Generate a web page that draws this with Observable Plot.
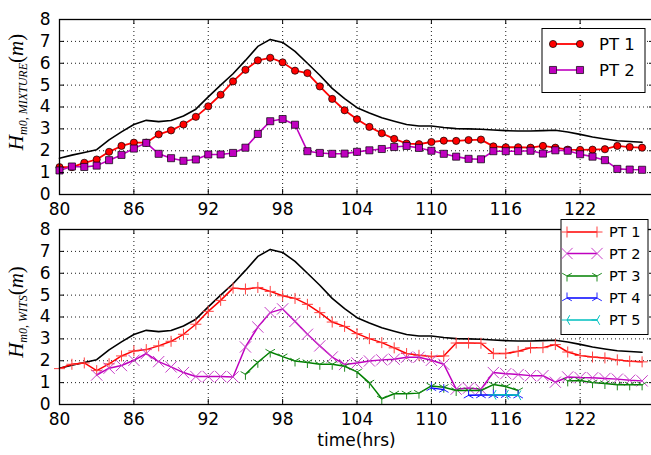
<!DOCTYPE html>
<html><head><meta charset="utf-8">
<script src="https://cdn.jsdelivr.net/npm/d3@7"></script>
<script src="https://cdn.jsdelivr.net/npm/@observablehq/plot@0.6"></script>
<style>
html,body{margin:0;padding:0;overflow:hidden;background:#fff;}
#wrap{position:relative;width:651px;height:455px;overflow:hidden;background:#fff;}
#wrap svg{display:block;}
</style></head><body><div id="wrap"></div>
<script>
// ---------- data ----------
const hours = [80,81,82,83,84,85,86,87,88,89,90,91,92,93,94,95,96,97,98,99,100,101,102,103,104,105,106,107,108,109,110,111,112,113,114,115,116,117,118,119,120,121,122,123,124,125,126,127];
const reference = [1.66,1.8,1.92,2.05,2.5,2.86,3.2,3.39,3.33,3.38,3.59,3.9,4.46,5.0,5.52,6.13,6.77,7.09,6.95,6.54,6.0,5.45,4.85,4.38,3.97,3.73,3.51,3.35,3.2,3.13,3.13,3.06,3.01,3.0,2.98,2.95,2.92,2.9,2.9,2.92,2.94,2.86,2.75,2.63,2.54,2.46,2.42,2.39];
const mixturePT1 = [1.25,1.25,1.45,1.6,1.95,2.22,2.37,2.37,2.75,2.93,3.2,3.55,4.03,4.56,5.17,5.7,6.13,6.25,6.04,5.66,5.55,4.94,4.37,3.85,3.44,3.09,2.8,2.54,2.33,2.3,2.4,2.46,2.45,2.49,2.51,2.2,2.16,2.16,2.14,2.22,2.14,2.05,2.04,2.05,2.07,2.22,2.17,2.14];
const mixturePT2 = [1.1,1.28,1.26,1.32,1.57,1.81,2.1,2.36,1.86,1.66,1.54,1.6,1.83,1.83,1.9,2.14,2.77,3.35,3.45,3.19,1.98,1.9,1.86,1.87,1.95,2.02,2.08,2.17,2.22,2.13,2.0,1.86,1.73,1.63,1.61,1.98,1.98,1.98,2.0,1.87,2.02,2.0,1.84,1.73,1.57,1.17,1.14,1.13];
const witsPT1 = [1.64,1.84,1.9,1.55,1.86,2.22,2.45,2.51,2.68,2.89,3.21,3.67,4.26,4.76,5.32,5.28,5.35,5.17,4.97,4.85,4.58,4.2,3.77,3.57,3.24,3.01,2.83,2.59,2.33,2.25,2.19,2.22,2.81,2.81,2.8,2.33,2.33,2.43,2.59,2.6,2.74,2.4,2.24,2.17,2.13,2.04,1.98,1.95];
const witsPT2 = [null,null,null,1.35,1.66,1.78,2.02,2.33,1.96,1.72,1.46,1.28,1.28,1.28,1.26,2.63,3.54,4.2,4.37,3.8,3.21,2.68,2.17,1.83,1.9,1.99,2.04,2.07,2.16,2.16,2.02,1.84,0.7,0.75,0.7,1.46,1.41,1.37,1.32,1.32,1.02,1.26,1.23,1.22,1.19,1.16,1.11,1.08];
const witsPT3 = [null,null,null,null,null,null,null,null,null,null,null,null,null,null,null,1.38,1.93,2.4,2.19,1.99,1.92,1.84,1.84,1.75,1.49,0.99,0.26,0.49,0.49,0.52,0.85,0.79,0.64,0.64,0.64,0.91,0.82,0.64,null,null,null,1.08,1.1,1.0,0.96,0.9,0.9,0.9];
const witsPT4 = [null,null,null,null,null,null,null,null,null,null,null,null,null,null,null,null,null,null,null,null,null,null,null,null,null,null,null,null,null,null,0.76,0.68,null,0.42,0.43,0.43,0.44,0.42,null,null,null,null,null,null,null,null,null,null];
const witsPT5 = [null,null,null,null,null,null,null,null,null,null,null,null,null,null,null,null,null,null,null,null,null,null,null,null,null,null,null,null,null,null,null,null,null,null,null,0.44,0.45,0.42,null,null,null,null,null,null,null,null,null,null];
const mixtureNames = ["PT 1","PT 2"];
const witsNames = ["PT 1","PT 2","PT 3","PT 4","PT 5"];
const xTicks = [80,86,92,98,104,110,116,122];
const yTicks = [0,1,2,3,4,5,6,7,8];
const xDomain = [80,128];
const yDomain = [0,8];

// ---------- styles ----------
const seg = (segs) => ({draw(ctx, size){const s=Math.sqrt(size/Math.PI); for(const [a,b,c,d] of segs){ctx.moveTo(a*s,b*s);ctx.lineTo(c*s,d*s);}}});
const plusSym = seg([[-1,0,1,0],[0,-1,0,1]]);
const xSym = seg([[-0.75,-0.75,0.75,0.75],[-0.75,0.75,0.75,-0.75]]);
const triDown = seg([[0,0,0,1],[0,0,0.87,-0.5],[0,0,-0.87,-0.5]]);
const triUp = seg([[0,0,0,-1],[0,0,0.87,0.5],[0,0,-0.87,0.5]]);
const triLeft = seg([[0,0,-1,0],[0,0,0.5,-0.87],[0,0,0.5,0.87]]);

const mixtureStyles = [
  {color:"#ff0000", lw:1.8, symbol:"circle", d3sym:d3.symbolCircle, r:3.6, fill:"#ff0000", edge:"#000", ew:0.7},
  {color:"#bf00bf", lw:1.6, symbol:"square", d3sym:d3.symbolSquare, r:4, fill:"#bf00bf", edge:"#000", ew:0.7}
];
const witsStyles = [
  {color:"#ff0000", lw:1.5, symbol:plusSym, d3sym:plusSym, r:5.5, fill:"none", edge:"#ff4040", ew:1},
  {color:"#bf00bf", lw:1.5, symbol:xSym, d3sym:xSym, r:7.5, fill:"none", edge:"#c840c8", ew:1},
  {color:"#008000", lw:1.5, symbol:triDown, d3sym:triDown, r:5.5, fill:"none", edge:"#208a20", ew:1},
  {color:"#0000ff", lw:1.5, symbol:triUp, d3sym:triUp, r:5.5, fill:"none", edge:"#2020ff", ew:1},
  {color:"#00bfbf", lw:1.5, symbol:triLeft, d3sym:triLeft, r:5.5, fill:"none", edge:"#00bfbf", ew:1}
];

const W = 656, ML = 59, MR = 2;
const table = (vals) => hours.map((h,i) => ({h, v: vals[i]}));

function panel(seriesVals, styles, {height, marginTop, marginBottom}) {
  const PH = height - marginTop - marginBottom, PW = W - ML - MR;
  const dotted = {stroke:"#000", strokeOpacity:1, strokeDasharray:"1,3", strokeWidth:0.9};
  const marks = [
    Plot.gridX(xTicks, dotted),
    Plot.gridY(yTicks, dotted),
    Plot.line(table(reference), {x:"h", y:"v", stroke:"#000", strokeWidth:1.6})
  ];
  seriesVals.forEach((vals, i) => {
    const st = styles[i];
    marks.push(Plot.line(table(vals), {x:"h", y:"v", stroke:st.color, strokeWidth:st.lw}));
    marks.push(Plot.dot(table(vals), {x:"h", y:"v", symbol:st.symbol, r:st.r, fill:st.fill, stroke:st.edge, strokeWidth:st.ew}));
  });
  marks.push(
    Plot.tickX(xTicks, {x:d=>d, insetTop:PH-5, stroke:"#000"}),
    Plot.tickX(xTicks, {x:d=>d, insetBottom:PH-5, stroke:"#000"}),
    Plot.tickY(yTicks, {y:d=>d, insetRight:PW-5, stroke:"#000"}),
    Plot.tickY(yTicks, {y:d=>d, insetLeft:PW-5, stroke:"#000"}),
    Plot.frame({stroke:"#000", strokeWidth:1.3}),
    Plot.axisX(xTicks, {tickSize:0, tickPadding:8, label:null, fontSize:17, fill:"#000"}),
    Plot.axisY(yTicks, {tickSize:0, tickPadding:9, label:null, fontSize:17, fill:"#000"})
  );
  return Plot.plot({
    width: W, height, marginLeft: ML, marginRight: MR, marginTop, marginBottom,
    x: {domain: xDomain}, y: {domain: yDomain},
    style: {fontFamily:"DejaVu Sans", fontSize:"17px", color:"#000", background:"transparent", maxWidth:"none", overflow:"visible"},
    marks
  });
}

function yLabel(svg, cx, cy, sub) {
  const t = d3.select(svg).append("text")
    .attr("transform", `translate(${cx},${cy}) rotate(-90)`)
    .attr("text-anchor", "middle")
    .attr("font-family", "Liberation Serif, DejaVu Serif, serif")
    .attr("fill", "#000");
  t.append("tspan").attr("font-style","italic").attr("font-size",21).text("H");
  t.append("tspan").attr("font-style","italic").attr("font-size",12).attr("dy",4).text(sub);
  t.append("tspan").attr("font-size",21).attr("dy",-4).text("(");
  t.append("tspan").attr("font-style","italic").attr("font-size",21).text("m");
  t.append("tspan").attr("font-size",21).text(")");
}

function legend(svg, names, styles, {x, y, w, h, rowY, lx1, lx2, tx, fontSize}) {
  const g = d3.select(svg).append("g").attr("text-anchor","start");
  g.append("rect").attr("x",x).attr("y",y).attr("width",w).attr("height",h)
    .attr("fill","#fff").attr("stroke","#000").attr("stroke-width",1);
  names.forEach((name, i) => {
    const st = styles[i], yy = rowY[i];
    g.append("line").attr("x1",lx1).attr("x2",lx2).attr("y1",yy).attr("y2",yy)
      .attr("stroke",st.color).attr("stroke-width",st.lw);
    [lx1, lx2].forEach(px => {
      g.append("path").attr("transform",`translate(${px},${yy})`)
        .attr("d", d3.symbol(st.d3sym, Math.PI*st.r*st.r)())
        .attr("fill", st.fill).attr("stroke", st.edge).attr("stroke-width", st.ew);
    });
    g.append("text").attr("x",tx).attr("y",yy).attr("dy","0.36em").attr("text-anchor","start")
      .attr("font-family","DejaVu Sans").attr("font-size",fontSize).attr("fill","#000").text(name);
  });
}

const wrap = document.getElementById("wrap");

const topPanel = panel([mixturePT1, mixturePT2], mixtureStyles, {height:219, marginTop:19, marginBottom:25});
topPanel.style.position = "absolute"; topPanel.style.left = "0px"; topPanel.style.top = "0px";
wrap.appendChild(topPanel);
yLabel(topPanel, 23, 92, "m0, MIXTURE");
legend(topPanel, mixtureNames, mixtureStyles, {x:542, y:28.5, w:103, h:64, rowY:[44,70], lx1:553, lx2:580, tx:599, fontSize:16.5});

const botPanel = panel([witsPT1, witsPT2, witsPT3, witsPT4, witsPT5], witsStyles, {height:236, marginTop:10, marginBottom:51});
botPanel.style.position = "absolute"; botPanel.style.left = "0px"; botPanel.style.top = "219px";
wrap.appendChild(botPanel);
yLabel(botPanel, 23, 93, "m0, WITS");
d3.select(botPanel).append("text").attr("x", (ML + W - MR)/2).attr("y", 221).attr("dy","0.36em")
  .attr("text-anchor","middle").attr("font-family","DejaVu Sans").attr("font-size",17).attr("fill","#000").text("time(hrs)");
legend(botPanel, witsNames, witsStyles, {x:561, y:0.5, w:87, h:115, rowY:[13,34.5,57,79,101], lx1:567, lx2:597, tx:609, fontSize:14.5});
</script></body></html>
